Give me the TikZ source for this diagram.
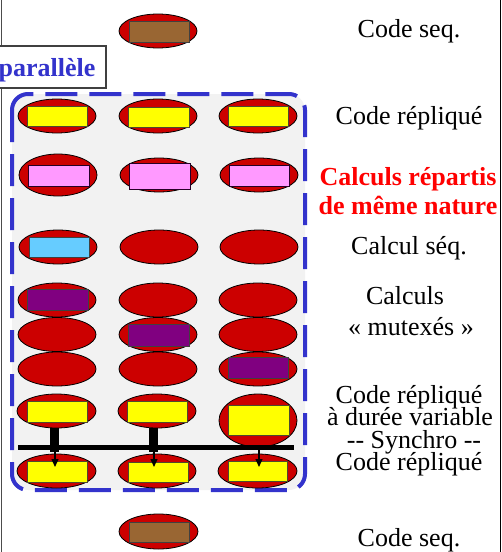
\documentclass[tikz,border=0pt]{standalone}
\usepackage{fontspec}
\setmainfont{Liberation Serif}
\usetikzlibrary{shapes.geometric,arrows.meta}
\definecolor{ellred}{HTML}{CC0000}
\definecolor{bxyellow}{HTML}{FFFF00}
\definecolor{bxpink}{HTML}{FF99FF}
\definecolor{bxblue}{HTML}{66CCFF}
\definecolor{bxpurple}{HTML}{800080}
\definecolor{bxbrown}{HTML}{996633}
\definecolor{dashblue}{HTML}{3333CC}
\definecolor{panelgray}{HTML}{F2F2F2}
\definecolor{lblred}{HTML}{FF0000}
\begin{document}
\begin{tikzpicture}[x=1pt,y=-1pt,
  ell/.style={ellipse, draw=black, fill=ellred, line width=0.8pt, minimum width=78pt, minimum height=34pt, inner sep=0pt},
  bx/.style={rectangle, draw=black!75, line width=1pt, minimum width=60pt, minimum height=21pt, inner sep=0pt},
  ybx/.style={bx, fill=bxyellow, draw=black!60!olive},
  pbx/.style={bx, fill=bxpink, draw=black!70!bxpurple},
  lbl/.style={font=\fontsize{26}{30}\selectfont, anchor=base, inner sep=0pt},
  dashbox/.style={draw=dashblue, fill=panelgray, line width=4pt, rounded corners=16pt, dash pattern=on 32pt off 12pt},
  syncarrow/.style={draw=black, line width=1.4pt, -{Triangle[length=8pt,width=7pt]}},
  stub/.style={draw=black, line width=9pt}
]
\useasboundingbox (0,0) rectangle (502,552);
% slide borders
\draw[black!70, line width=1.5pt] (1.5,0) -- (1.5,552);
\draw[black, line width=1.5pt] (500.5,0) -- (500.5,552);

% dashed parallel region
\draw[dashbox] (12,94) rectangle (305,490);

% "parallèle" tab
\node[draw=black!75, fill=white, line width=1.2pt, minimum width=116pt, minimum height=42pt, inner sep=0pt] (tab) at (48,67) {};
\node[font=\fontsize{26}{30}\selectfont\bfseries, text=dashblue, anchor=base, inner sep=0pt] (tabtxt) at (47,76) {parallèle};

% top sequential code
\node[ell] (e0) at (158,31) {};
\node[bx, fill=bxbrown, minimum width=60pt, minimum height=21pt] (b0) at (159,31.5) {};

% row 1 : code répliqué
\node[ell] (e1a) at (57,116) {};
\node[ell] (e1b) at (158,116) {};
\node[ell] (e1c) at (258,116) {};
\node[ybx, minimum height=20pt] (b1a) at (57.5,116) {};
\node[ybx, minimum width=61pt, minimum height=20pt] (b1b) at (158.5,117) {};
\node[ybx, minimum height=20pt] (b1c) at (258,116) {};

% row 2 : calculs répartis
\node[ell, minimum height=42pt] (e2a) at (58,175) {};
\node[ell] (e2b) at (159,175) {};
\node[ell] (e2c) at (259,175) {};
\node[pbx, minimum width=61pt] (b2a) at (58.5,175.5) {};
\node[pbx, minimum width=61pt, minimum height=26pt] (b2b) at (159.5,176) {};
\node[pbx] (b2c) at (259,175.5) {};

% row 3 : calcul séq.
\node[ell] (e3a) at (58,247) {};
\node[ell] (e3b) at (159,247) {};
\node[ell] (e3c) at (259,247) {};
\node[bx, fill=bxblue, minimum height=20pt] (b3a) at (59,247) {};

% rows 4-6 : calculs mutexés
\node[ell] (e4a) at (57,300) {};
\node[ell] (e4b) at (158,300) {};
\node[ell] (e4c) at (258,300) {};
\node[ell] (e5a) at (57,334.5) {};
\node[ell] (e5b) at (158,334.5) {};
\node[ell] (e5c) at (258,334.5) {};
\node[ell] (e6a) at (57,369) {};
\node[ell] (e6b) at (158,369) {};
\node[ell] (e6c) at (258,369) {};
\node[bx, fill=bxpurple, minimum width=61pt] (b4a) at (57.5,299.5) {};
\node[bx, fill=bxpurple, minimum width=61pt, minimum height=22pt] (b5b) at (158.5,335) {};
\node[bx, fill=bxpurple] (b6c) at (258,367.5) {};

% row 7 : code répliqué à durée variable
\node[ell, minimum width=79pt] (e7a) at (56.5,411) {};
\node[ell] (e7b) at (157,411) {};
\node[ell, minimum height=53pt] (e7c) at (258,420.5) {};
\node[ybx] (b7a) at (57,411.5) {};
\node[ybx] (b7b) at (157,411.5) {};
\node[ybx, minimum width=61pt, minimum height=30pt] (b7c) at (258.5,420) {};

% row 8 : code répliqué
\node[ell, minimum width=79pt] (e8a) at (56.5,471) {};
\node[ell] (e8b) at (157,471) {};
\node[ell, minimum width=79pt] (e8c) at (257.5,471) {};
\node[ybx] (b8a) at (57,471.5) {};
\node[ybx, minimum height=20pt] (b8b) at (158,472) {};
\node[ybx, minimum width=59pt, minimum height=20pt] (b8c) at (257.5,471) {};

% synchro bar
\node[fill=black, minimum width=276pt, minimum height=5pt, inner sep=0pt] (bar) at (156,447.5) {};
\draw[stub] ([xshift=-2pt]e7a.south) -- ([xshift=-2pt,yshift=-2pt]e7a.south |- bar.south);
\draw[stub] ([xshift=-3.5pt]e7b.south) -- ([xshift=-3.5pt,yshift=-2pt]e7b.south |- bar.south);
\coordinate (ta) at (55,467);
\coordinate (tb) at (154,467);
\coordinate (tc) at (259,467);
\draw[syncarrow] (bar.south -| ta) -- (ta);
\draw[syncarrow] (bar.south -| tb) -- (tb);
\draw[syncarrow] (bar.south -| tc) -- (tc);

% bottom sequential code
\node[ell, minimum width=79pt, minimum height=35pt] (e9) at (158.5,531.5) {};
\node[bx, fill=bxbrown, minimum height=20pt] (b9) at (159,532) {};

% labels
\node[lbl] (l1) at (409,37) {Code seq.};
\node[lbl] (l2) at (409,124) {Code répliqué};
\node[lbl, font=\fontsize{26}{30}\selectfont\bfseries, text=lblred] (l3a) at (408,185) {Calculs répartis};
\node[lbl, font=\fontsize{26}{30}\selectfont\bfseries, text=lblred] (l3b) at (408,214.5) {de même nature};
\node[lbl] (l4) at (409,254) {Calcul séq.};
\node[lbl] (l5a) at (405,304) {Calculs};
\node[lbl] (l5b) at (411,335) {« mutexés »};
\node[lbl] (l6a) at (409,403) {Code répliqué};
\node[lbl] (l6b) at (410,425.5) {à durée variable};
\node[lbl] (l6c) at (414,448) {-{}- Synchro -{}-};
\node[lbl] (l6d) at (409,470.5) {Code répliqué};
\node[lbl] (l7) at (409,546) {Code seq.};
\end{tikzpicture}
\end{document}
